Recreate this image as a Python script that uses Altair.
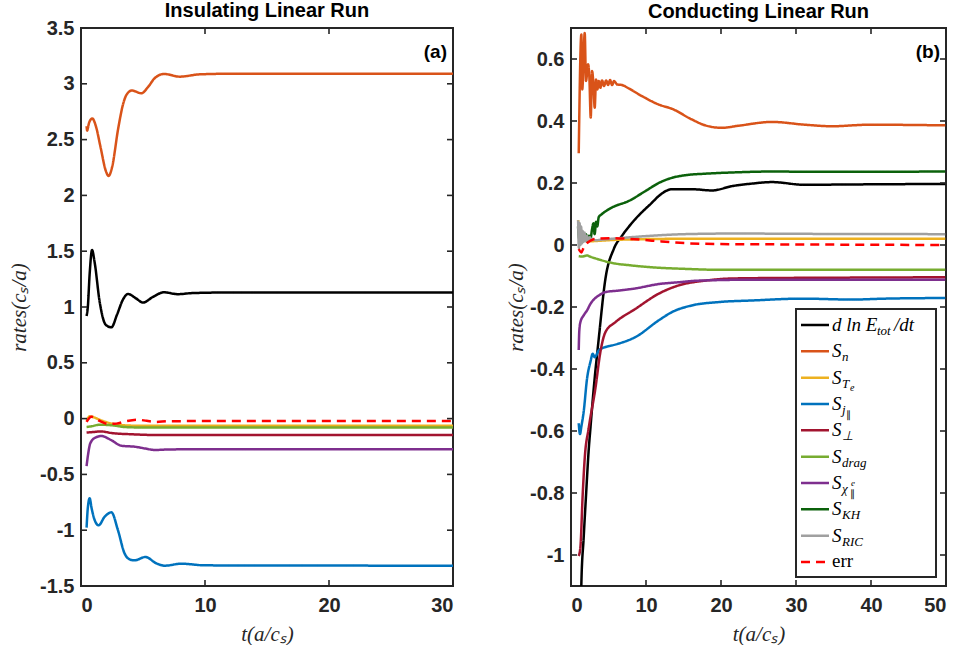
import altair as alt
import pandas as pd

# ---------------- series identity ----------------
KEYS = ["dlnE", "Sn", "STe", "Sj", "Sperp", "Sdrag", "Schi", "SKH", "SRIC", "err"]
COLORS = ["#000000", "#D95319", "#EDB120", "#0072BD", "#A2142F",
          "#77AC30", "#7E2F8E", "#0B610B", "#A0A0A0", "#FF0000"]
DASHES = [[1, 0]] * 9 + [[9, 6]]

# ---------------- (a) insulating run ----------------
ins_dlnE_t = [0.45, 0.55, 0.7, 0.89, 1.1, 1.5, 2.0, 2.45, 2.9, 3.4, 3.79, 4.4, 5.0, 5.8, 6.69, 7.8, 9.0, 12, 20, 30]
ins_dlnE_v = [0.92, 1.0, 1.3, 1.51, 1.4, 1.05, 0.84, 0.818, 0.93, 1.07, 1.117, 1.08, 1.04, 1.09, 1.132, 1.115, 1.125, 1.13, 1.13, 1.13]
ins_Sn_t = [0.45, 0.5, 0.55, 0.65, 0.91, 1.2, 1.6, 2.0, 2.23, 2.5, 3.0, 3.4, 3.66, 4.11, 4.87, 5.4, 5.94, 6.69, 7.96, 9.6, 12, 20, 30]
ins_Sn_v = [2.62, 2.58, 2.6, 2.65, 2.69, 2.62, 2.42, 2.22, 2.174, 2.25, 2.6, 2.82, 2.90, 2.94, 2.915, 2.97, 3.05, 3.088, 3.064, 3.085, 3.09, 3.09, 3.09]
ins_STe_t = [0.45, 0.7, 0.95, 1.5, 2.5, 3.5, 5, 8, 30]
ins_STe_v = [-0.02, 0.02, 0.015, -0.01, -0.045, -0.06, -0.065, -0.065, -0.065]
ins_Sj_t = [0.45, 0.55, 0.70, 0.85, 1.10, 1.42, 1.91, 2.45, 2.98, 3.51, 3.92, 4.33, 5.19, 6.08, 6.75, 8.09, 10, 30]
ins_Sj_v = [-0.977, -0.80, -0.714, -0.80, -0.909, -0.956, -0.879, -0.84, -1.0, -1.207, -1.261, -1.27, -1.24, -1.297, -1.318, -1.30, -1.315, -1.318]
ins_Sperp_t = [0.45, 1.0, 1.6, 2.5, 4, 6, 10, 30]
ins_Sperp_v = [-0.125, -0.12, -0.115, -0.13, -0.14, -0.147, -0.147, -0.147]
ins_Sdrag_t = [0.45, 0.8, 1.5, 2.5, 3.5, 5, 8, 30]
ins_Sdrag_v = [-0.075, -0.07, -0.055, -0.06, -0.075, -0.08, -0.08, -0.08]
ins_Schi_t = [0.45, 0.56, 0.75, 1.16, 1.64, 2.45, 3.25, 4.33, 5.13, 5.94, 7.28, 10, 30]
ins_Schi_v = [-0.425, -0.33, -0.221, -0.17, -0.156, -0.194, -0.243, -0.252, -0.267, -0.281, -0.276, -0.275, -0.275]
ins_err_t = [0.45, 0.83, 1.5, 2.18, 2.85, 3.6, 4.55, 5.3, 6.02, 7.0, 10, 30]
ins_err_v = [-0.03, 0.017, -0.02, -0.048, -0.045, -0.025, -0.01, -0.02, -0.03, -0.024, -0.022, -0.022]

# ---------------- (b) conducting run ----------------
con_dlnE_t = [1.35, 1.38, 1.69, 2.01, 2.36, 2.59, 3.03, 3.70, 4.59, 5.7, 6.81, 8.59, 10.81, 11.7, 13.5, 16.1, 18.8, 21.5, 24.1, 26.8, 31.2, 35.7, 41.9, 49.9]
con_dlnE_v = [-1.2, -1.094, -0.944, -0.805, -0.661, -0.591, -0.463, -0.302, -0.109, -0.013, 0.03, 0.084, 0.137, 0.158, 0.180, 0.180, 0.176, 0.19, 0.198, 0.203, 0.194, 0.195, 0.196, 0.197]
con_Sn_t = [1.03, 1.38, 1.5, 1.83, 2.0, 2.28, 2.45, 2.63, 2.81, 2.99, 3.16, 3.34, 3.52, 3.7, 3.92, 4.14, 4.41, 4.68, 4.94, 5.21, 5.48, 5.74, 6.14, 6.81, 7.7, 9.48, 11.7, 13.5, 16.1, 17.9, 20.1, 22.4, 26.8, 31.2, 34.8, 39.7, 49.9]
con_Sn_v = [0.296, 0.679, 0.502, 0.684, 0.529, 0.583, 0.54, 0.411, 0.561, 0.518, 0.443, 0.534, 0.502, 0.529, 0.507, 0.531, 0.513, 0.531, 0.516, 0.532, 0.516, 0.529, 0.518, 0.516, 0.505, 0.48, 0.453, 0.439, 0.405, 0.386, 0.378, 0.385, 0.397, 0.388, 0.383, 0.388, 0.386]
con_STe_t = [0.95, 1.1, 1.3, 1.6, 2.5, 4, 6.4, 15, 30, 49.9]
con_STe_v = [0.08, 0.04, 0.02, 0.015, 0.012, 0.014, 0.017, 0.02, 0.02, 0.02]
con_Sj_t = [1.03, 1.2, 1.38, 1.69, 2.14, 2.59, 2.9, 3.16, 3.7, 4.59, 5.47, 6.36, 8.59, 11.7, 13.5, 16.1, 19.7, 24.1, 30.8, 37.5, 41.9, 49.9]
con_Sj_v = [-0.575, -0.61, -0.586, -0.538, -0.431, -0.377, -0.351, -0.362, -0.34, -0.329, -0.324, -0.318, -0.297, -0.243, -0.216, -0.195, -0.184, -0.179, -0.173, -0.176, -0.173, -0.171]
con_Sperp_t = [1.03, 1.25, 1.56, 1.83, 2.36, 3.25, 3.92, 4.59, 5.92, 8.59, 11.7, 14.4, 17.9, 21.5, 30, 40, 49.9]
con_Sperp_v = [-1.003, -0.976, -0.805, -0.688, -0.591, -0.463, -0.345, -0.281, -0.249, -0.206, -0.157, -0.13, -0.115, -0.108, -0.106, -0.105, -0.104]
con_Sdrag_t = [1.03, 1.5, 2.14, 2.6, 3.5, 5.5, 8.1, 10.8, 15.2, 19.7, 49.9]
con_Sdrag_v = [-0.036, -0.037, -0.034, -0.038, -0.045, -0.058, -0.066, -0.072, -0.077, -0.08, -0.08]
con_Schi_t = [1.03, 1.1, 1.25, 1.69, 2.14, 2.59, 3.03, 3.70, 4.59, 6.36, 8.59, 11.7, 14.4, 17.0, 24.1, 49.9]
con_Schi_v = [-0.339, -0.28, -0.249, -0.227, -0.211, -0.19, -0.176, -0.163, -0.152, -0.147, -0.14, -0.126, -0.12, -0.115, -0.112, -0.112]
con_SKH_t = [0.94, 1.1, 1.25, 1.4, 1.6, 1.8, 2.0, 2.2, 2.4, 2.6, 2.8, 3.0, 3.15, 3.35, 3.5, 3.7, 4.14, 5.47, 7.7, 9.92, 11.7, 13.5, 15.2, 17.9, 21.5, 26.8, 33, 49.9]
con_SKH_v = [0.06, 0.02, 0.05, 0.01, 0.04, 0.015, 0.035, 0.01, 0.03, 0.02, 0.05, 0.07, 0.035, 0.075, 0.06, 0.09, 0.10, 0.121, 0.142, 0.174, 0.2, 0.217, 0.225, 0.230, 0.234, 0.237, 0.236, 0.237]
con_SRIC_t = [0.95, 1.05, 1.15, 1.25, 1.35, 1.45, 1.55, 1.65, 1.8, 1.95, 2.1, 2.3, 2.5, 2.7, 2.9, 3.2, 4, 6.4, 10.8, 15.2, 22, 31, 49.9]
con_SRIC_v = [0.08, -0.01, 0.07, 0.0, 0.06, 0.005, 0.045, 0.01, 0.04, 0.012, 0.03, 0.014, 0.025, 0.015, 0.02, 0.015, 0.017, 0.022, 0.03, 0.035, 0.037, 0.036, 0.035]
con_err_t = [1.03, 1.38, 1.7, 2.14, 2.6, 3.25, 5.5, 7.7, 10.8, 15.2, 19.7, 28, 49.9]
con_err_v = [-0.013, -0.024, -0.008, 0.006, 0.014, 0.02, 0.022, 0.02, 0.014, 0.006, 0.003, 0.002, 0.0]

# ---------------- axes ----------------
ins_xticks = [0, 10, 20, 30]
ins_yticks = [-1.5, -1, -0.5, 0, 0.5, 1, 1.5, 2, 2.5, 3, 3.5]
con_xticks = [0, 10, 20, 30, 40, 50]
con_yticks = [-1, -0.8, -0.6, -0.4, -0.2, 0, 0.2, 0.4, 0.6]

# ---------------- legend text ----------------
leg_main = ["d ln E", "S", "S", "S", "S", "S", "S", "S", "S", "err"]
leg_sub = ["tot", "n", "T", "j", "⊥", "drag", "χ", "KH", "RIC", ""]
leg_tail = ["/dt", "", "", "", "", "", "", "", "", ""]
leg_subsub = ["", "", "e", "∥", "", "", "∥", "", "", ""]
leg_sup = ["", "", "", "", "", "", "e", "", "", ""]

ins_series = {
    "dlnE": (ins_dlnE_t, ins_dlnE_v), "Sn": (ins_Sn_t, ins_Sn_v),
    "STe": (ins_STe_t, ins_STe_v), "Sj": (ins_Sj_t, ins_Sj_v),
    "Sperp": (ins_Sperp_t, ins_Sperp_v), "Sdrag": (ins_Sdrag_t, ins_Sdrag_v),
    "Schi": (ins_Schi_t, ins_Schi_v), "err": (ins_err_t, ins_err_v),
}
con_series = {
    "dlnE": (con_dlnE_t, con_dlnE_v), "Sn": (con_Sn_t, con_Sn_v),
    "STe": (con_STe_t, con_STe_v), "Sj": (con_Sj_t, con_Sj_v),
    "Sperp": (con_Sperp_t, con_Sperp_v), "Sdrag": (con_Sdrag_t, con_Sdrag_v),
    "Schi": (con_Schi_t, con_Schi_v), "SKH": (con_SKH_t, con_SKH_v),
    "SRIC": (con_SRIC_t, con_SRIC_v), "err": (con_err_t, con_err_v),
}


def long_df(series):
    rows = []
    for k in KEYS:
        if k in series:
            ts, vs = series[k]
            for t, v in zip(ts, vs):
                rows.append({"key": k, "t": t, "v": v})
    return pd.DataFrame(rows)


ins_df = long_df(ins_series)
con_df = long_df(con_series)
leg_df = pd.DataFrame({"key": KEYS, "row": list(range(len(KEYS))), "main": leg_main,
                       "sub": leg_sub, "tail": leg_tail, "subsub": leg_subsub, "sup": leg_sup})

INK = "#262626"
LABEL_EXPR = "datum.value < 0 ? '-' + format(-datum.value, '~g') : format(datum.value, '~g')"
color_enc = alt.Color("key:N", scale=alt.Scale(domain=KEYS, range=COLORS), legend=None)
dash_enc = alt.StrokeDash("key:N", scale=alt.Scale(domain=KEYS, range=DASHES), legend=None)


def label_axis(vals, orient, title, tpad, lpad):
    return alt.Axis(values=vals, orient=orient, title=title, ticks=False, domain=False, grid=False,
                    labelExpr=LABEL_EXPR, labelFont="Liberation Sans", labelFontWeight="bold",
                    labelFontSize=20, labelColor=INK, labelPadding=lpad,
                    titleFont="Liberation Serif", titleFontStyle="italic", titleFontWeight="normal",
                    titleFontSize=21, titleColor=INK, titlePadding=tpad)


def panel(df, xdom, ydom, xt, yt, w, h, title, tag, ytpad, toff, legend=False):
    xs = alt.Scale(domain=xdom, nice=False, zero=False)
    ys = alt.Scale(domain=ydom, nice=False, zero=False)
    xax = label_axis(xt, "bottom", "t(a/cₛ)", 8, 9)
    yax = label_axis(yt, "left", "rates(cₛ/a)", ytpad, 7)
    ytick_ax = None if legend else yax
    lines = alt.Chart(df).mark_line(strokeWidth=2.5, interpolate="monotone", clip=True).encode(
        x=alt.X("t:Q", scale=xs, axis=xax),
        y=alt.Y("v:Q", scale=ys, axis=yax),
        color=color_enc, strokeDash=dash_enc, detail="key:N")
    # inward MATLAB-style tick marks on all four sides
    xdf = pd.DataFrame({"t": xt})
    ydf = pd.DataFrame({"v": yt})
    tk = dict(color=INK, thickness=1.6, size=6, opacity=1)
    xb = alt.Chart(xdf).mark_tick(**tk).encode(
        x=alt.X("t:Q", scale=xs, axis=xax), y=alt.value(h - 3))
    xtp = alt.Chart(xdf).mark_tick(**tk).encode(
        x=alt.X("t:Q", scale=xs, axis=xax), y=alt.value(3))
    yl = alt.Chart(ydf).mark_tick(**tk).encode(
        y=alt.Y("v:Q", scale=ys, axis=ytick_ax), x=alt.value(3))
    yr = alt.Chart(ydf).mark_tick(**tk).encode(
        y=alt.Y("v:Q", scale=ys, axis=ytick_ax), x=alt.value(w - 3))
    tagl = alt.Chart(pd.DataFrame({"tag": [tag]})).mark_text(
        align="right", baseline="middle", font="Liberation Sans", fontWeight="bold",
        fontSize=19, color="black").encode(x=alt.value(w - 6), y=alt.value(24), text="tag:N")
    layers = [lines, xb, xtp, yl, yr, tagl]
    if legend:
        yrow = alt.Y("row:Q", scale=alt.Scale(domain=[0, 9], range=[297, 534]), axis=None)
        box = alt.Chart(pd.DataFrame({"a": [0]})).mark_rect(
            fill="white", stroke=INK, strokeWidth=2).encode(
            x=alt.value(225), x2=alt.value(365), y=alt.value(281), y2=alt.value(549))
        samples = alt.Chart(leg_df).mark_rule(strokeWidth=2.5).encode(
            x=alt.value(230), x2=alt.value(258), y=yrow, color=color_enc, strokeDash=dash_enc)

        def txt(field, rows, dx, dy, size, style="italic"):
            return alt.Chart(leg_df).transform_filter(
                alt.FieldOneOfPredicate(field="row", oneOf=rows)).mark_text(
                align="left", baseline="middle", font="Liberation Serif", fontStyle=style,
                fontSize=size, color="black", dx=dx, dy=dy).encode(
                x=alt.value(261), y=yrow, text=f"{field}:N")

        layers += [box, samples,
                   txt("main", list(range(9)), 0, 0, 19),
                   txt("main", [9], 0, -1, 19, "normal"),
                   txt("sub", [0], 45, 6, 13),
                   txt("tail", [0], 62, 0, 19),
                   txt("sub", list(range(1, 9)), 10, 6, 13),
                   txt("subsub", [2], 18, 10, 10),
                   txt("subsub", [3], 14, 11, 10, "normal"),
                   txt("subsub", [6], 18, 11, 10, "normal"),
                   txt("sup", [6], 19, 0, 9)]
    ch = alt.layer(*layers)
    if legend:
        ch = ch.resolve_scale(y="independent")
    return ch.properties(width=w, height=h, title=alt.Title(
        title, font="Liberation Sans", fontSize=20, fontWeight="bold", color="black",
        offset=toff, anchor="middle"))


left = panel(ins_df, [0, 30], [-1.5, 3.5], ins_xticks, ins_yticks, 372, 558,
             "Insulating Linear Run", "(a)", 10, -3)
right = panel(con_df, [0, 50], [-1.1, 0.7], con_xticks, con_yticks, 375, 558,
              "Conducting Linear Run", "(b)", 3, 6, legend=True)

chart = alt.hconcat(left, right, spacing=49).properties(
    padding={"left": 7, "top": 0, "right": 0, "bottom": 0}
).configure_view(stroke=INK, strokeWidth=2)

chart.save("out.html", embed_options={"renderer": "svg", "actions": False})
